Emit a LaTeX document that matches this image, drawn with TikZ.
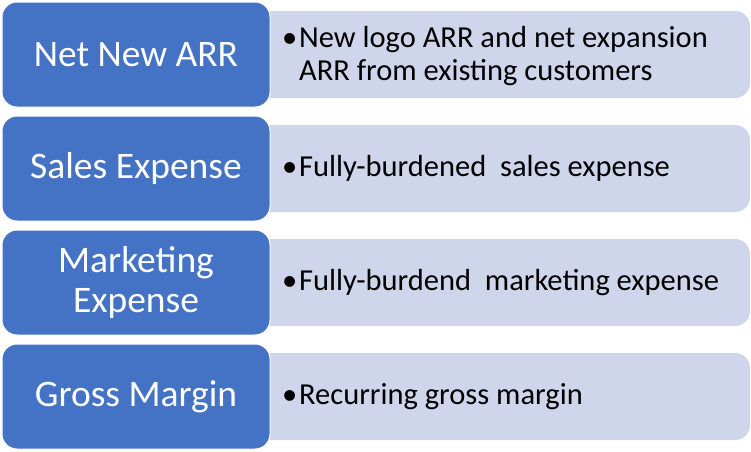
\documentclass[tikz,border=0pt]{standalone}
\usepackage{fontspec}
\setmainfont{Carlito}
\definecolor{bluebox}{HTML}{4472C4}
\definecolor{lavbox}{HTML}{CFD5EA}
\tikzset{
  leftbox/.style={fill=bluebox, draw=white, line width=1pt, rounded corners=15pt, minimum width=268pt, minimum height=105pt, inner sep=0pt, text=white, align=center, font=\fontsize{37.5}{40}\selectfont},
  rightbox/.style={fill=lavbox, draw=none, rounded corners=15pt, minimum width=495pt, minimum height=87pt, inner sep=0pt},
  rtext/.style={anchor=west, inner sep=0pt, align=left, font=\fontsize{30.5}{33}\selectfont, text=black}
}
\newcommand{\bul}{\makebox[17pt][l]{•}}
\begin{document}
\begin{tikzpicture}[x=1pt,y=-1pt]
\useasboundingbox (0,0) rectangle (751,451);
% row 1
\node[rightbox] (r1) at (502.5,54.5) {};
\node[leftbox] (l1) at (136,54.5) {Net New ARR};
\node[rtext] (t1) at (282,57) {\begin{tabular}{@{}l@{}l@{}}\bul & New logo ARR and net expansion\\ & ARR from existing customers\end{tabular}};
% row 2
\node[rightbox] (r2) at (502.5,168.5) {};
\node[leftbox] (l2) at (136,168.5) {Sales Expense};
\node[rtext] (t2) at (282,168.5) {\bul Fully-burdened\ \ sales expense};
% row 3
\node[rightbox] (r3) at (502.5,282.5) {};
\node[leftbox] (l3) at (136,282.5) {Marketing\\Expense};
\node[rtext] (t3) at (282,282.5) {\bul Fully-burdend\ \ marketing expense};
% row 4
\node[rightbox] (r4) at (502.5,396.5) {};
\node[leftbox] (l4) at (136,396.5) {Gross Margin};
\node[rtext] (t4) at (282,396.5) {\bul Recurring gross margin};
\end{tikzpicture}
\end{document}
